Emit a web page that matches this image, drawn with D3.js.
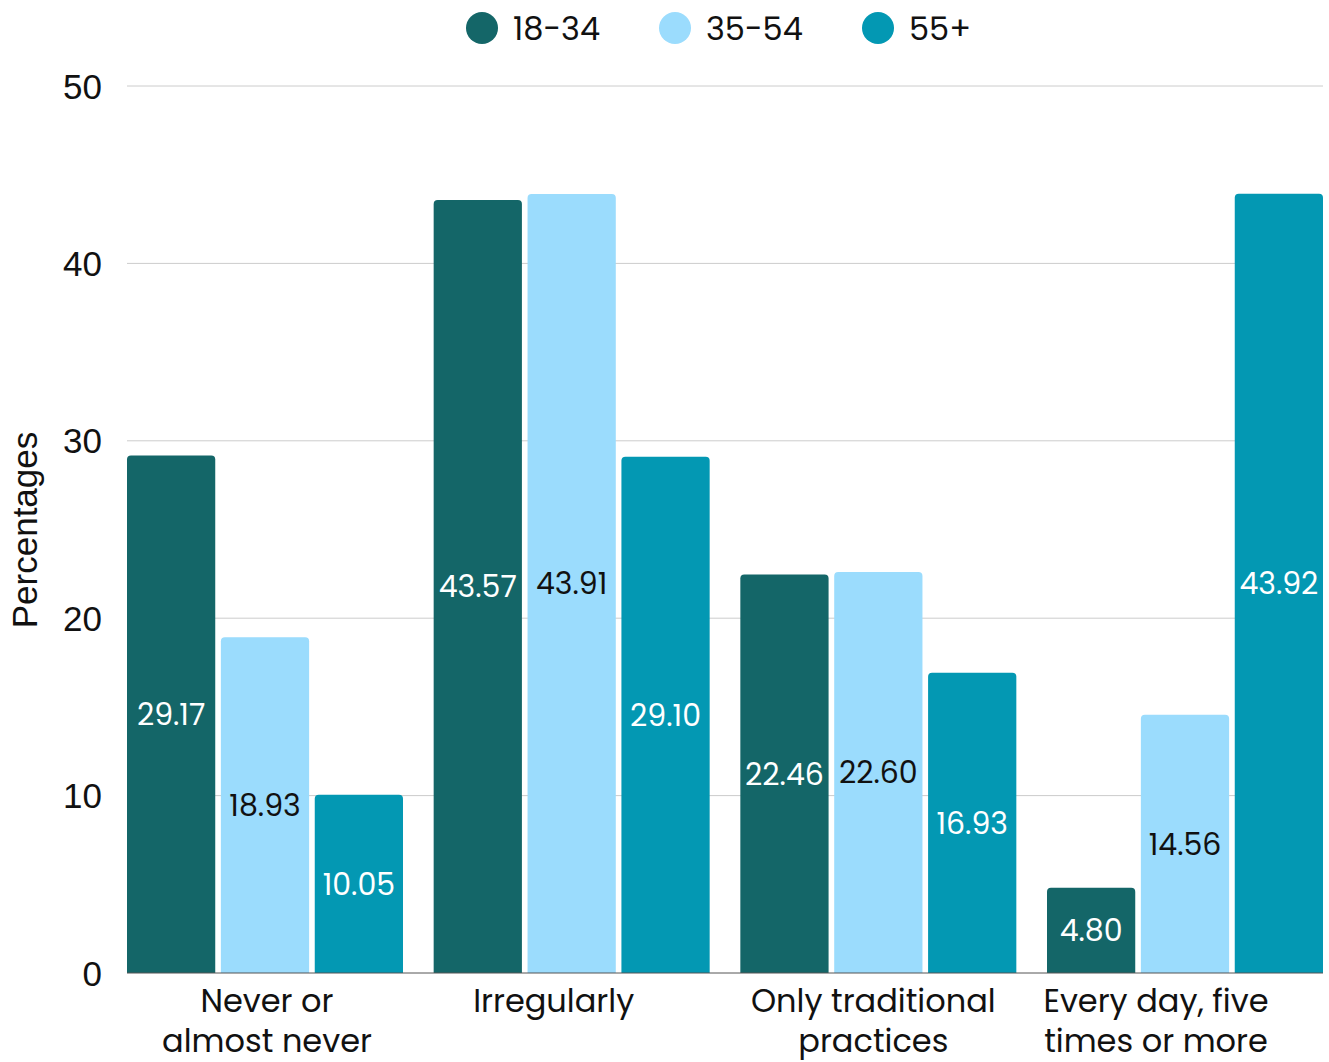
<!DOCTYPE html>
<html>
<head>
<meta charset="utf-8">
<script src="https://cdn.jsdelivr.net/npm/d3@7"></script>
<style>
  html, body { margin: 0; padding: 0; background: #fff; }
  svg { display: block; }
</style>
</head>
<body>
<svg id="chart" width="1329" height="1062"></svg>
<script>
// Survey frequency by age group (percentages)
const categories = [
  ["Never or", "almost never"],
  ["Irregularly"],
  ["Only traditional", "practices"],
  ["Every day, five", "times or more"]
];
const seriesNames = ["18-34", "35-54", "55+"];
const values1834 = [29.17, 43.57, 22.46, 4.80];
const values3554 = [18.93, 43.91, 22.60, 14.56];
const values55 = [10.05, 29.10, 16.93, 43.92];
const yTicks = [0, 10, 20, 30, 40, 50];

const colors = ["#146668", "#9bdcfd", "#0398b3"];
const labelColors = ["#ffffff", "#111111", "#ffffff"];
const seriesValues = [values1834, values3554, values55];
// horizontal nudge of each category label relative to its group centre
const catLabelShift = [2, -18, -5, -29];

const svg = d3.select("#chart");
const margin = { left: 127, right: 6, top: 86, bottom: 89 };
const W = 1329, H = 1062;
const plotW = W - margin.left - margin.right;
const plotH = H - margin.top - margin.bottom;

const uiFont = "Poppins, Inter, 'Open Sans', sans-serif";
const axisFont = "'Liberation Sans', Arial, sans-serif";

const g = svg.append("g").attr("transform", `translate(${margin.left},${margin.top})`);

const x0 = d3.scaleBand().domain(d3.range(categories.length)).range([0, plotW])
  .paddingInner(0.1).paddingOuter(0);
const x1 = d3.scaleBand().domain(d3.range(seriesNames.length)).range([0, x0.bandwidth()])
  .paddingInner(0.06).paddingOuter(0);
const y = d3.scaleLinear().domain([0, 50]).range([plotH, 0]);

// gridlines
g.append("g").selectAll("line").data(yTicks.filter(t => t > 0)).join("line")
  .attr("x1", 0).attr("x2", plotW)
  .attr("y1", d => y(d)).attr("y2", d => y(d))
  .attr("stroke", "#cccccc").attr("stroke-width", 1);

// y tick labels
g.append("g").selectAll("text").data(yTicks).join("text")
  .attr("x", -25).attr("y", d => y(d))
  .attr("dy", "0.36em")
  .attr("text-anchor", "end")
  .attr("font-family", axisFont).attr("font-size", 35).attr("fill", "#111")
  .text(d => d);

// y title
svg.append("text")
  .attr("transform", "translate(37,530) rotate(-90)")
  .attr("text-anchor", "middle")
  .attr("font-family", axisFont).attr("font-size", 35).attr("fill", "#111")
  .text("Percentages");

// rounded-top bar path
function barPath(x, yTop, w, h, r) {
  r = Math.min(r, h, w / 2);
  return `M${x},${yTop + h}V${yTop + r}Q${x},${yTop} ${x + r},${yTop}H${x + w - r}Q${x + w},${yTop} ${x + w},${yTop + r}V${yTop + h}Z`;
}

const bars = [];
categories.forEach((c, ci) => {
  seriesValues.forEach((vals, si) => {
    bars.push({ ci, si, v: vals[ci] });
  });
});

g.append("g").selectAll("path").data(bars).join("path")
  .attr("d", d => barPath(x0(d.ci) + x1(d.si), y(d.v), x1.bandwidth(), y(0) - y(d.v), 4))
  .attr("fill", d => colors[d.si]);

// baseline
g.append("line").attr("x1", 0).attr("x2", plotW).attr("y1", y(0)).attr("y2", y(0))
  .attr("stroke", "#555").attr("stroke-width", 1);

// value labels centred in each bar
g.append("g").selectAll("text").data(bars).join("text")
  .attr("x", d => x0(d.ci) + x1(d.si) + x1.bandwidth() / 2)
  .attr("y", d => (y(d.v) + y(0)) / 2)
  .attr("dy", "0.36em")
  .attr("text-anchor", "middle")
  .attr("font-family", uiFont).attr("font-size", 30)
  .attr("fill", d => labelColors[d.si])
  .text(d => d.v.toFixed(2));

// category labels
const cat = g.append("g").selectAll("text").data(categories).join("text")
  .attr("x", (d, i) => x0(i) + x0.bandwidth() / 2 + catLabelShift[i])
  .attr("y", plotH + 39)
  .attr("text-anchor", "middle")
  .attr("font-family", uiFont).attr("font-size", 32).attr("fill", "#111");
cat.each(function(lines) {
  const t = d3.select(this);
  lines.forEach((ln, li) => {
    t.append("tspan").attr("x", t.attr("x")).attr("dy", li === 0 ? 0 : 40).text(ln);
  });
});

// legend
const legendX = [482, 675, 878];
const legend = svg.append("g").selectAll("g").data(seriesNames).join("g")
  .attr("transform", (d, i) => `translate(${legendX[i]},28)`);
legend.append("circle").attr("r", 16).attr("fill", (d, i) => colors[i]);
legend.append("text").attr("x", 31).attr("dy", "0.36em")
  .attr("font-family", uiFont).attr("font-size", 32).attr("fill", "#111")
  .text(d => d);
</script>
</body>
</html>
